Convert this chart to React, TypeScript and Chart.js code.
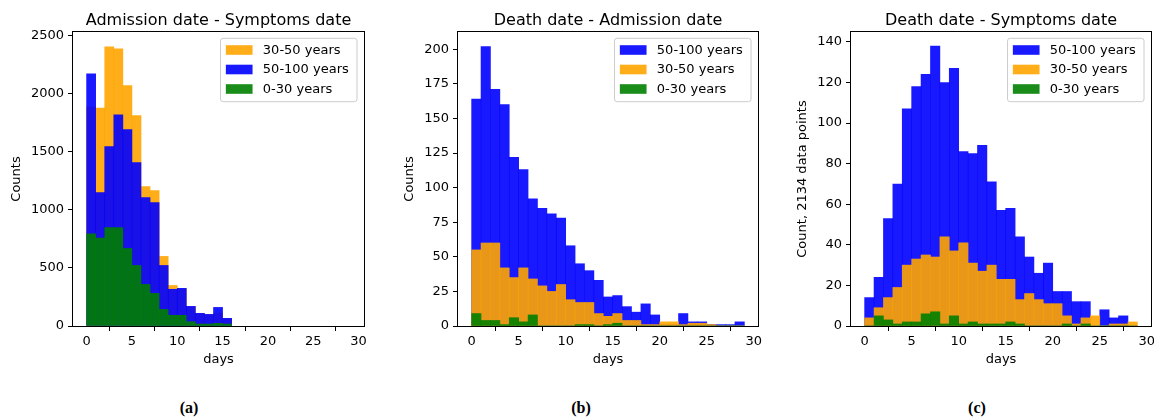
import React, { useEffect, useRef } from "react";
import { Chart, registerables } from "chart.js";

Chart.register(...registerables);

const FONT = "'DejaVu Sans', sans-serif";

// ---------- Data ----------
const daysA = [0, 1, 2, 3, 4, 5, 6, 7, 8, 9, 10, 11, 12, 13, 14, 15];
const a3050 = [1887, 1876, 2403, 2385, 2068, 1810, 1200, 1166, 599, 349, 318, 165, 105, 97, 112, 62];
const a50100 = [2171, 1148, 1544, 1818, 1690, 1406, 1105, 1062, 521, 316, 324, 169, 109, 100, 160, 66];
const a030 = [793, 756, 848, 848, 667, 521, 358, 281, 143, 92, 92, 37, 17, 17, 23, 17];

const daysB = [0, 1, 2, 3, 4, 5, 6, 7, 8, 9, 10, 11, 12, 13, 14, 15, 16, 17, 18, 19, 20, 21, 22, 23, 24, 25, 26, 27, 28];
const b50100 = [164, 202, 171, 160, 122, 113, 92, 85, 81, 78, 58, 45, 40, 33, 21, 22, 14, 10, 16, 8, 1, 1, 9, 3, 3, 1, 1, 1, 3];
const b3050 = [55, 60, 60, 42, 35, 42, 34, 29, 25, 30, 19, 17, 17, 9, 7, 9, 4, 4, 1, 1, 3, 3, 1, 2, 2, 1, 0, 0, 0];
const b030 = [9, 4, 4, 1, 6, 3, 8, 0, 0, 0, 0, 1, 1, 0, 1, 2, 0, 0, 0, 0, 0, 0, 0, 0, 0, 0, 0, 0, 0];

const daysC = [0, 1, 2, 3, 4, 5, 6, 7, 8, 9, 10, 11, 12, 13, 14, 15, 16, 17, 18, 19, 20, 21, 22, 23, 24, 25, 26, 27, 28];
const c50100 = [14, 24, 53, 70, 107, 118, 124, 138, 120, 127, 86, 85, 89, 71, 57, 58, 44, 34, 26, 31, 17, 17, 12, 12, 0, 8, 4, 5, 0];
const c3050 = [4, 9, 14, 19, 30, 33, 35, 34, 44, 37, 41, 31, 27, 30, 23, 23, 13, 16, 13, 11, 11, 5, 1, 4, 5, 0, 1, 1, 2];
const c030 = [0, 5, 3, 1, 2, 2, 6, 7, 1, 5, 1, 2, 1, 1, 1, 2, 1, 0, 0, 0, 0, 1, 0, 1, 0, 0, 0, 0, 0];

const xTicks = [0, 5, 10, 15, 20, 25, 30];
const yTicksA = [0, 500, 1000, 1500, 2000, 2500];
const yTicksB = [0, 25, 50, 75, 100, 125, 150, 175, 200];
const yTicksC = [0, 20, 40, 60, 80, 100, 120, 140];

const ORANGE = "rgba(255,165,0,0.9)";
const BLUE = "rgba(0,0,255,0.9)";
const GREEN = "rgba(0,128,0,0.9)";

type Series = { label: string; color: string; values: number[] };

type Panel = {
  key: string;
  canvasLeft: number;
  canvasWidth: number;
  yWidth: number;
  padRight: number;
  xMin: number;
  xMax: number;
  yMax: number;
  yTicks: number[];
  yTitle: string;
  yTitlePad: number;
  title: string;
  days: number[];
  series: Series[]; // draw order (first drawn first), also legend order
  caption: string;
  captionX: number;
};

const panels: Panel[] = [
  {
    key: "a",
    canvasLeft: 0,
    canvasWidth: 380,
    yWidth: 73,
    padRight: 16,
    xMin: -1.5,
    xMax: 30.6,
    yMax: 2530,
    yTicks: yTicksA,
    yTitle: "Counts",
    yTitlePad: 9.2,
    title: "Admission date - Symptoms date",
    days: daysA,
    series: [
      { label: "30-50 years", color: ORANGE, values: a3050 },
      { label: "50-100 years", color: BLUE, values: a50100 },
      { label: "0-30 years", color: GREEN, values: a030 },
    ],
    caption: "(a)",
    captionX: 189,
  },
  {
    key: "b",
    canvasLeft: 385,
    canvasWidth: 385,
    yWidth: 73,
    padRight: 12,
    xMin: -1.45,
    xMax: 30.45,
    yMax: 212.5,
    yTicks: yTicksB,
    yTitle: "Counts",
    yTitlePad: 17.2,
    title: "Death date - Admission date",
    days: daysB,
    series: [
      { label: "50-100 years", color: BLUE, values: b50100 },
      { label: "30-50 years", color: ORANGE, values: b3050 },
      { label: "0-30 years", color: GREEN, values: b030 },
    ],
    caption: "(b)",
    captionX: 581,
  },
  {
    key: "c",
    canvasLeft: 780,
    canvasWidth: 374,
    yWidth: 71,
    padRight: 3,
    xMin: -1.45,
    xMax: 30.45,
    yMax: 144.9,
    yTicks: yTicksC,
    yTitle: "Count, 2134 data points",
    yTitlePad: 14.7,
    title: "Death date - Symptoms date",
    days: daysC,
    series: [
      { label: "50-100 years", color: BLUE, values: c50100 },
      { label: "30-50 years", color: ORANGE, values: c3050 },
      { label: "0-30 years", color: GREEN, values: c030 },
    ],
    caption: "(c)",
    captionX: 977,
  },
];

const CANVAS_H = 375;
const TOP = 32;
const X_AXIS_H = CANVAS_H - 326;

const mplPlugin = {
  id: "mplDecor",
  afterDatasetsDraw(chart: any, _args: any, opts: any) {
    const { ctx, chartArea } = chart;
    const { left, right, top, bottom } = chartArea;
    ctx.save();
    // frame (spines)
    ctx.strokeStyle = "#000";
    ctx.lineWidth = 1;
    ctx.strokeRect(left - 0.5, top - 0.5, right - left + 1, bottom - top + 1);
    // title
    ctx.fillStyle = "#000";
    ctx.font = `16px ${FONT}`;
    ctx.textAlign = "center";
    ctx.textBaseline = "alphabetic";
    ctx.fillText(opts.title, (left + right) / 2, 25.3);
    // legend
    const items: Series[] = opts.items;
    ctx.font = `13px ${FONT}`;
    const maxW = Math.max(...items.map((it) => ctx.measureText(it.label).width));
    const lRight = right - 7;
    const lTop = top + 6.3;
    const lWidth = 5.3 + 26.7 + 10.3 + maxW + 8.2;
    const lLeft = lRight - lWidth;
    const lHeight = 63.4;
    ctx.beginPath();
    if ((ctx as any).roundRect) {
      (ctx as any).roundRect(lLeft, lTop, lWidth, lHeight, 2.6);
    } else {
      ctx.rect(lLeft, lTop, lWidth, lHeight);
    }
    ctx.fillStyle = "rgba(255,255,255,0.8)";
    ctx.fill();
    ctx.strokeStyle = "#cccccc";
    ctx.lineWidth = 1;
    ctx.stroke();
    items.forEach((it, i) => {
      const cy = lTop + 11.7 + i * 19.5;
      ctx.fillStyle = it.color;
      ctx.fillRect(lLeft + 5.3, cy - 4.8, 26.7, 9.6);
      ctx.fillStyle = "#000";
      ctx.textAlign = "left";
      ctx.textBaseline = "middle";
      ctx.fillText(it.label, lLeft + 5.3 + 26.7 + 10.3, cy + 0.5);
    });
    ctx.restore();
  },
};

function HistPanel({ p }: { p: Panel }) {
  const ref = useRef<HTMLCanvasElement | null>(null);
  useEffect(() => {
    if (!ref.current) return;
    const n = p.series.length;
    const datasets = p.series.map((s, i) => ({
      label: s.label,
      data: p.days.map((d, j) => ({ x: d + 0.5, y: s.values[j] })),
      backgroundColor: s.color,
      borderWidth: 0,
      barPercentage: 1,
      categoryPercentage: 1,
      grouped: false,
      order: n - i,
    }));
    const tickFont = { family: FONT, size: 13 };
    const chart = new Chart(ref.current, {
      type: "bar",
      data: { datasets } as any,
      plugins: [mplPlugin],
      options: {
        animation: false,
        responsive: false,
        devicePixelRatio: 1,
        events: [],
        layout: { padding: { left: 0, right: p.padRight, top: TOP, bottom: 0 } },
        plugins: {
          legend: { display: false },
          tooltip: { enabled: false },
          title: { display: false },
          mplDecor: { title: p.title, items: p.series },
        } as any,
        scales: {
          x: {
            type: "linear",
            min: p.xMin,
            max: p.xMax,
            offset: false,
            afterBuildTicks: (s: any) => {
              s.ticks = xTicks.map((v) => ({ value: v }));
            },
            afterFit: (s: any) => {
              s.height = X_AXIS_H;
              s.paddingLeft = 0;
              s.paddingRight = 0;
            },
            ticks: {
              font: tickFont,
              color: "#000",
              padding: 3,
              maxRotation: 0,
              autoSkip: false,
              callback: (v: any) => String(v),
            },
            grid: {
              display: true,
              drawOnChartArea: false,
              drawTicks: true,
              tickLength: 5,
              color: "#000",
              lineWidth: 1,
            },
            border: { display: false },
            title: {
              display: true,
              text: "days",
              color: "#000",
              font: tickFont,
              padding: { top: 0, bottom: 7.7 },
            },
          },
          y: {
            type: "linear",
            min: 0,
            max: p.yMax,
            afterBuildTicks: (s: any) => {
              s.ticks = p.yTicks.map((v) => ({ value: v }));
            },
            afterFit: (s: any) => {
              s.width = p.yWidth;
              s.paddingTop = 0;
              s.paddingBottom = 0;
            },
            ticks: {
              font: tickFont,
              color: "#000",
              padding: 4,
              autoSkip: false,
              callback: (v: any) => String(v),
            },
            grid: {
              display: true,
              drawOnChartArea: false,
              drawTicks: true,
              tickLength: 5,
              color: "#000",
              lineWidth: 1,
            },
            border: { display: false },
            title: {
              display: true,
              text: p.yTitle,
              color: "#000",
              font: tickFont,
              padding: { top: p.yTitlePad, bottom: 0 },
            },
          },
        },
      } as any,
    });
    return () => chart.destroy();
  }, [p]);
  return (
    <canvas
      ref={ref}
      width={p.canvasWidth}
      height={CANVAS_H}
      style={{ position: "absolute", left: p.canvasLeft, top: 0, width: p.canvasWidth, height: CANVAS_H }}
    />
  );
}

export default function App() {
  return (
    <div
      style={{
        position: "absolute",
        left: 0,
        top: 0,
        width: 1154,
        height: 417,
        background: "#fff",
        overflow: "hidden",
      }}
    >
      {panels.map((p) => (
        <HistPanel key={p.key} p={p} />
      ))}
      {panels.map((p) => (
        <div
          key={"cap" + p.key}
          style={{
            position: "absolute",
            left: p.captionX - 30,
            width: 60,
            top: 398,
            textAlign: "center",
            fontFamily: "'Liberation Serif', 'Times New Roman', serif",
            fontWeight: "bold",
            fontSize: 16,
            lineHeight: "20px",
            color: "#000",
          }}
        >
          {p.caption}
        </div>
      ))}
    </div>
  );
}
